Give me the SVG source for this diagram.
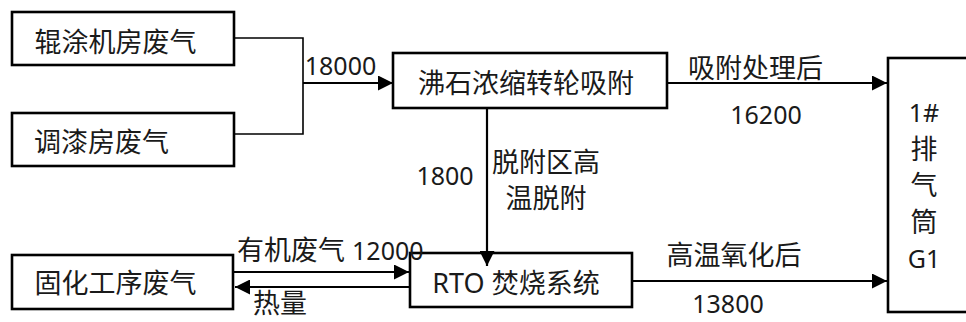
<svg xmlns="http://www.w3.org/2000/svg" width="966" height="322" viewBox="0 0 966 322">
<defs>
<style>
.box{fill:#fff;stroke:#000;stroke-width:2.6}
.ln{fill:none;stroke:#000;stroke-width:2.2}
.thin{fill:none;stroke:#000;stroke-width:1.6}
text{font-family:"Noto Sans","Noto Sans CJK SC",sans-serif;font-size:27px;fill:#1a1a1a}
.d{font-size:25px}
.m{text-anchor:middle}
</style>
<marker id="ah" viewBox="0 0 15 15" refX="15" refY="7.5" markerWidth="15" markerHeight="15" markerUnits="userSpaceOnUse" orient="auto">
<path d="M0,0 L15,7.5 L0,15 z" fill="#000"/>
</marker>
</defs>
<rect width="966" height="322" fill="#fff"/>
<g id="n1">
<rect class="box" x="12" y="12" width="222" height="53"/>
<text class="m" x="115.5" y="52">辊涂机房废气</text>
</g>
<g id="n2">
<rect class="box" x="12" y="113" width="222" height="53"/>
<text class="m" x="101.5" y="152">调漆房废气</text>
</g>
<g id="n3">
<rect class="box" x="393" y="53" width="274" height="55"/>
<text class="m" x="526" y="93">沸石浓缩转轮吸附</text>
</g>
<g id="n4">
<rect class="box" x="12" y="255" width="221" height="54"/>
<text class="m" x="115.5" y="293">固化工序废气</text>
</g>
<g id="n5">
<rect class="box" x="410" y="253" width="222" height="54"/>
<text class="m" x="516" y="293">RTO 焚烧系统</text>
</g>
<g id="n6">
<rect class="box" x="888" y="58" width="90" height="254"/>
<text class="m d" x="924" y="122">1#</text>
<text class="m" x="924" y="159">排</text>
<text class="m" x="924" y="195">气</text>
<text class="m" x="924" y="232">筒</text>
<text class="m d" x="924" y="268">G1</text>
</g>
<g id="connectors">
<path class="thin" d="M234,38 H303 V134 H234"/>
<path class="ln" d="M303,83 H393" marker-end="url(#ah)"/>
<path class="ln" d="M667,83 H887" marker-end="url(#ah)"/>
<path class="ln" d="M487,108 V266" marker-end="url(#ah)"/>
<path class="ln" d="M632,281 H887" marker-end="url(#ah)"/>
<path class="ln" d="M233,272 H409" marker-end="url(#ah)"/>
<path class="ln" d="M410,287 H235" marker-end="url(#ah)"/>
<text class="m d" x="340.5" y="75">18000</text>
<text class="m" x="755.5" y="78">吸附处理后</text>
<text class="m d" x="766" y="124">16200</text>
<text class="m d" x="445" y="185">1800</text>
<text class="m" x="546" y="172">脱附区高</text>
<text class="m" x="546" y="208">温脱附</text>
<text class="m" x="734" y="265">高温氧化后</text>
<text class="m d" x="728" y="313">13800</text>
<text x="237" y="260">有机废气 <tspan class="d">12000</tspan></text>
<text class="m" x="280" y="313">热量</text>
</g>
</svg>
